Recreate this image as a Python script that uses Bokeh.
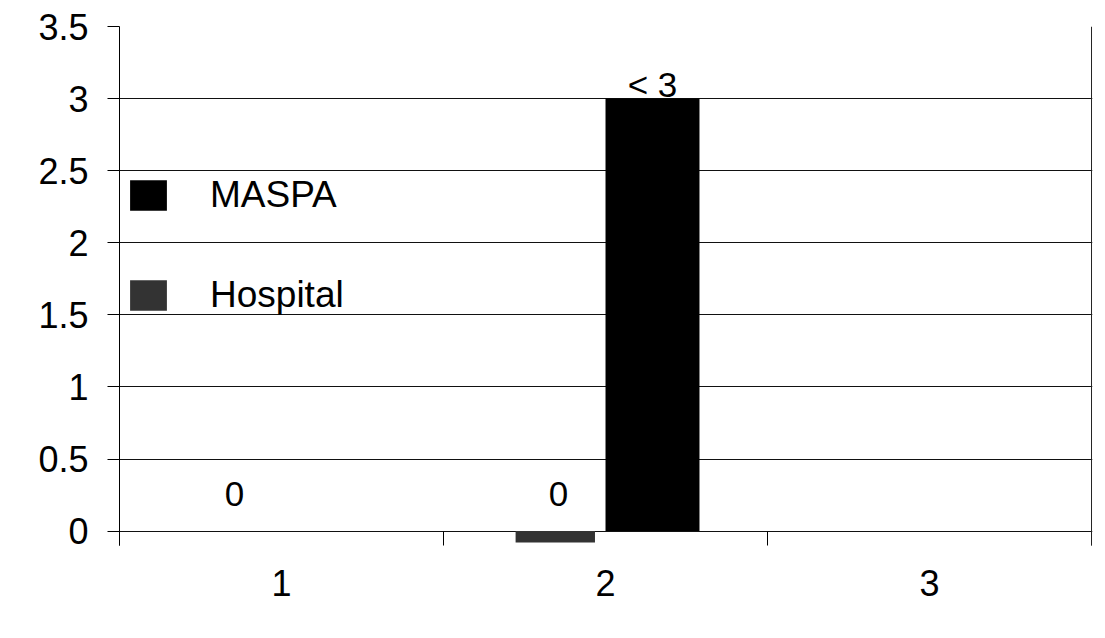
from bokeh.plotting import figure
from bokeh.models import (ColumnDataSource, FixedTicker, Legend, LegendItem,
                          Span, Range1d)
from bokeh.transform import dodge
from bokeh.core.properties import value
from bokeh.embed import file_html
from bokeh.resources import INLINE

# ---- data ----
categories = [1, 2, 3]
category_labels = ["1", "2", "3"]
hospital_values = [0, -0.08, 0]
maspa_values = [0, 3, 0]
hospital_labels = ["0", "0", ""]
maspa_labels = ["", "< 3", ""]
y_ticks = [0, 0.5, 1, 1.5, 2, 2.5, 3, 3.5]
y_tick_labels = ["0", "0.5", "1", "1.5", "2", "2.5", "3", "3.5"]

FONT = "Liberation Sans"
HOSP_OFF = -0.155
MASPA_OFF = 0.145

src = ColumnDataSource(dict(
    x=categories,
    hosp=hospital_values,
    maspa=maspa_values,
    hosp_lab=hospital_labels,
    maspa_lab=maspa_labels,
    hosp_y=[max(v, 0) for v in hospital_values],
    maspa_y=[max(v, 0) for v in maspa_values],
))

p = figure(width=1105, height=638, output_backend="svg", toolbar_location=None,
           x_range=Range1d(0.5, 3.503), y_range=Range1d(-0.1, 3.5),
           min_border_left=119, min_border_right=13, min_border_top=26,
           min_border_bottom=93, outline_line_color=None,
           background_fill_color="white", border_fill_color="white")

r_h = p.vbar(x=dodge("x", HOSP_OFF), top="hosp", bottom=0, width=0.245,
             source=src, fill_color="#333333", line_color=None)
r_m = p.vbar(x=dodge("x", MASPA_OFF), top="maspa", bottom=0, width=0.29,
             source=src, fill_color="black", line_color=None)

p.text(x=dodge("x", HOSP_OFF + 0.01), y="hosp_y", text="hosp_lab", source=src,
       text_font=value(FONT), text_font_size="35px", text_align="center",
       text_baseline="alphabetic", y_offset=-37, text_color="black")
p.text(x=dodge("x", MASPA_OFF), y="maspa_y", text="maspa_lab", source=src,
       text_font=value(FONT), text_font_size="35px", text_align="center",
       text_baseline="alphabetic", y_offset=-14, text_color="black")

# grid
p.xgrid.visible = False
p.ygrid.ticker = FixedTicker(ticks=y_ticks)
p.ygrid.grid_line_color = "#111111"
p.ygrid.grid_line_width = 1

# right border of plot area
p.add_layout(Span(location=3.5, dimension="height", line_color="#222222",
                  line_width=1))

# y axis
ya = p.yaxis[0]
ya.ticker = FixedTicker(ticks=y_ticks, minor_ticks=[])
ya.major_label_overrides = {t: l for t, l in zip(y_ticks, y_tick_labels)}
ya.major_label_text_font = FONT
ya.major_label_text_font_size = "36px"
ya.major_label_text_color = "black"
ya.major_tick_out = 12
ya.major_tick_in = 0
ya.major_label_standoff = 19
ya.axis_line_color = "black"
ya.major_tick_line_color = "black"

# x axis (baseline at 0 is the grid line at 0; ticks hang below it)
xa = p.xaxis[0]
xa.ticker = FixedTicker(ticks=categories, minor_ticks=[0.5, 1.5, 2.5, 3.5])
xa.major_label_overrides = {c: l for c, l in zip(categories, category_labels)}
xa.major_label_text_font = FONT
xa.major_label_text_font_size = "36px"
xa.major_label_text_color = "black"
xa.major_tick_out = 0
xa.major_tick_in = 0
xa.minor_tick_out = 0
xa.minor_tick_in = 14
xa.minor_tick_line_color = "black"
xa.major_label_standoff = 24
xa.axis_line_color = None

legend = Legend(items=[LegendItem(label="MASPA", renderers=[r_m]),
                       LegendItem(label="Hospital", renderers=[r_h])],
                location=(6, 229), orientation="vertical",
                glyph_width=46, glyph_height=38, label_standoff=39,
                label_text_font=FONT, label_text_font_size="37px",
                label_text_color="black",
                label_height=40, spacing=58, padding=0, margin=0,
                border_line_alpha=0, background_fill_alpha=0)
p.add_layout(legend, "center")

open("out.html", "w").write(file_html(p, INLINE))
